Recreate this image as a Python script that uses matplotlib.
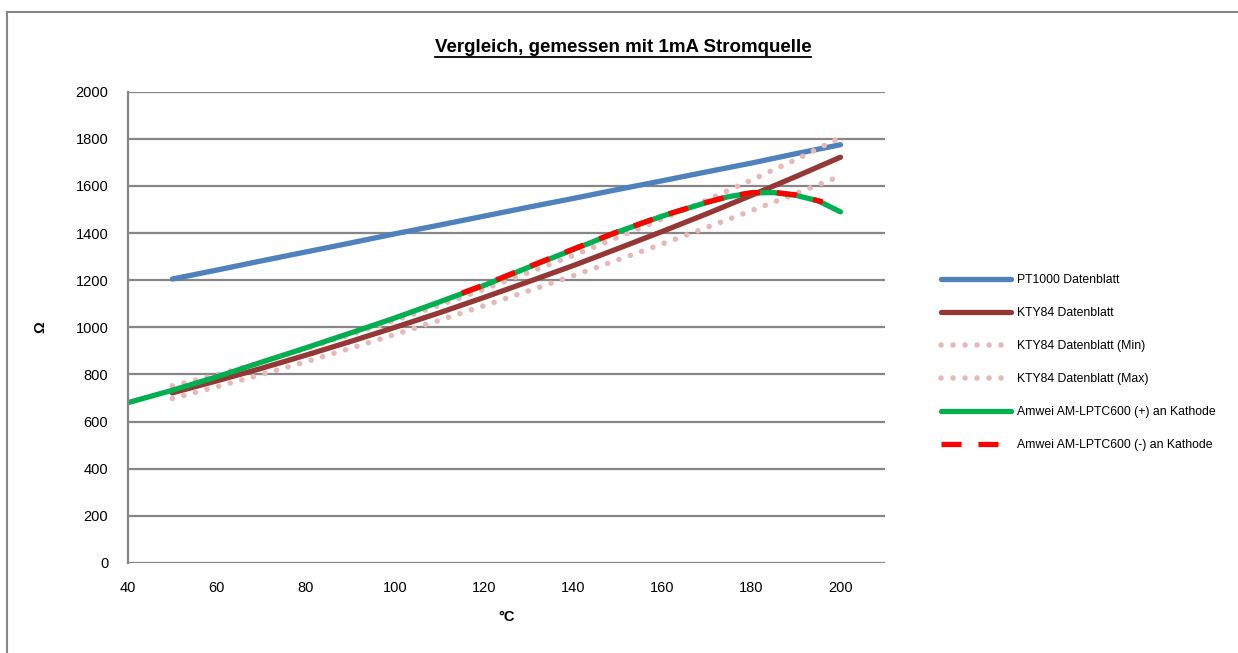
import matplotlib
matplotlib.use("Agg")
import matplotlib.pyplot as plt
from matplotlib.lines import Line2D
from matplotlib.patches import Rectangle

# Temperatur in °C, Widerstand in Ohm
temp_ds = [50, 60, 70, 80, 90, 100, 110, 120, 130, 140, 150, 160, 170, 180, 190, 200]
pt1000 = [1205, 1243, 1282, 1320, 1358, 1397, 1434, 1472, 1510, 1547, 1585, 1622, 1660, 1697, 1737, 1775]
kty84 = [722, 773, 826, 882, 940, 1000, 1062, 1127, 1194, 1262, 1334, 1407, 1482, 1560, 1640, 1722]
kty84_min = [698, 748, 800, 854, 911, 970, 1030, 1092, 1155, 1219, 1286, 1354, 1424, 1495, 1568, 1642]
kty84_max = [752, 798, 852, 910, 969, 1030, 1094, 1162, 1233, 1305, 1382, 1460, 1540, 1625, 1712, 1806]

temp_plus = [40, 50, 60, 70, 80, 90, 100, 110, 120, 130, 140, 150, 160, 170, 175, 180, 185, 190, 195, 200]
amwei_plus = [680, 733, 790, 852, 913, 976, 1040, 1108, 1178, 1255, 1330, 1405, 1472, 1530, 1555, 1570, 1572, 1560, 1537, 1490]

temp_minus = [115, 120, 130, 140, 150, 160, 170, 175, 180, 185, 190, 196]
amwei_minus = [1145, 1180, 1257, 1332, 1406, 1473, 1531, 1556, 1571, 1573, 1562, 1532]

labels = [
    "PT1000 Datenblatt",
    "KTY84 Datenblatt",
    "KTY84 Datenblatt (Min)",
    "KTY84 Datenblatt (Max)",
    "Amwei AM-LPTC600 (+) an Kathode",
    "Amwei AM-LPTC600 (-) an Kathode",
]
x_ticks = [40, 60, 80, 100, 120, 140, 160, 180, 200]
y_ticks = [0, 200, 400, 600, 800, 1000, 1200, 1400, 1600, 1800, 2000]

plt.rcParams["font.family"] = ["Liberation Sans", "DejaVu Sans"]
GRID = "#868686"
LW = 3.8

fig = plt.figure(figsize=(12.38, 6.53), dpi=100)
ax = fig.add_axes([127.7 / 1238, 1 - 563 / 653, (885 - 127.7) / 1238, (563 - 91.7) / 653])

ax.plot(temp_ds, pt1000, color="#4F81BD", lw=LW, solid_capstyle="round", label=labels[0])
ax.plot(temp_ds, kty84, color="#953735", lw=LW, solid_capstyle="round", label=labels[1])
ax.plot(temp_ds, kty84_min, color="#E6B9B8", lw=4.0, dashes=(0.01, 2.15),
        dash_capstyle="round", label=labels[2])
ax.plot(temp_ds, kty84_max, color="#E6B9B8", lw=4.0, dashes=(0.01, 2.15),
        dash_capstyle="round", label=labels[3])
ax.plot(temp_plus, amwei_plus, color="#00B050", lw=LW, solid_capstyle="round", label=labels[4])
ax.plot(temp_minus, amwei_minus, color="#FF0000", lw=LW, dashes=(3.8, 3.2), label=labels[5])

ax.set_xlim(40, 210)
ax.set_ylim(0, 2000)
ax.set_xticks(x_ticks)
ax.set_yticks(y_ticks)
ax.tick_params(length=0, labelsize=10.5)
ax.tick_params(axis="y", pad=14)
ax.tick_params(axis="x", pad=13)
ax.grid(axis="y", color=GRID, lw=1.6)
ax.set_axisbelow(True)
for side in ("top", "right", "bottom"):
    ax.spines[side].set_visible(False)
ax.spines["left"].set_color(GRID)
ax.spines["left"].set_linewidth(1.6)

ax.set_xlabel("°C", fontsize=10.5, fontweight="bold", labelpad=11)
ax.set_ylabel("Ω", fontsize=10.5, fontweight="bold", labelpad=20)

title = fig.text(623 / 1238, 1 - 47 / 653, "Vergleich, gemessen mit 1mA Stromquelle",
                 ha="center", va="center", fontsize=13.5, fontweight="bold")

fig.legend(loc="center left", bbox_to_anchor=(941 / 1238, 1 - 362.5 / 653),
           frameon=False, fontsize=8.8, handlelength=5.7, handletextpad=0.55,
           labelspacing=1.72, borderpad=0, borderaxespad=0)

# Rahmen des Excel-Diagramms
fig.patches.append(Rectangle((7 / 1238, -0.05), 1.2, 1.05 - 12 / 653,
                             transform=fig.transFigure, fill=False,
                             edgecolor=GRID, lw=1.5))

# Unterstreichung des Titels
fig.canvas.draw()
bb = title.get_window_extent().transformed(fig.transFigure.inverted())
fig.add_artist(Line2D([bb.x0, bb.x1], [bb.y0 - 0.002, bb.y0 - 0.002],
                      transform=fig.transFigure, color="black", lw=1.3))

fig.savefig("out.png", dpi=100)
